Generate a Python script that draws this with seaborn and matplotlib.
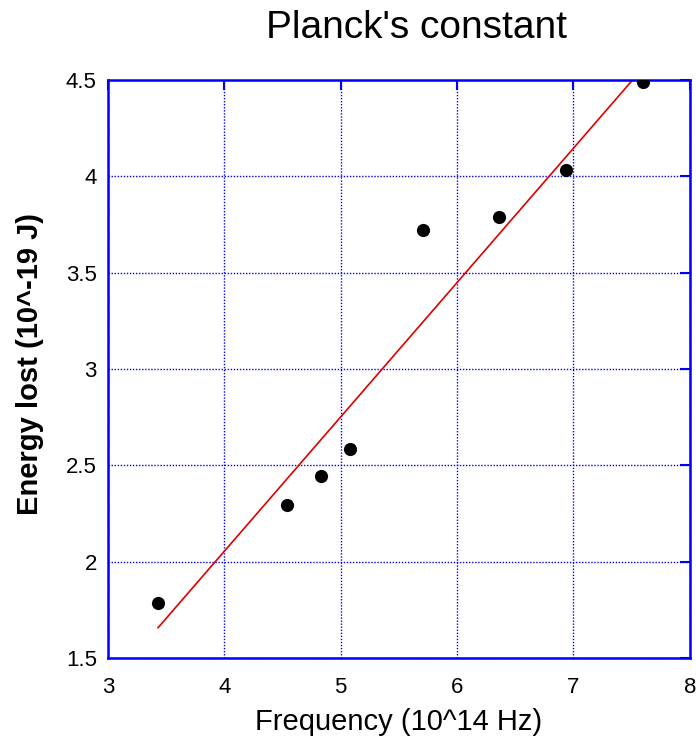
import numpy as np
import pandas as pd
import seaborn as sns
import matplotlib.pyplot as plt

# frequency (10^14 Hz) and energy lost (10^-19 J)
frequency = [3.43, 4.54, 4.83, 5.08, 5.71, 6.36, 6.94, 7.60]
energy = [1.785, 2.294, 2.444, 2.585, 3.721, 3.789, 4.032, 4.489]
xticks = [3, 4, 5, 6, 7, 8]
yticks = [1.5, 2, 2.5, 3, 3.5, 4, 4.5]
ytick_labels = ["1.5", "2", "2.5", "3", "3.5", "4", "4.5"]

df = pd.DataFrame({"freq": frequency, "energy": energy})

sns.set_style("white")
plt.rcParams['font.family'] = ['Liberation Sans', 'DejaVu Sans']
plt.rcParams['text.color'] = 'black'

fig = plt.figure(figsize=(6.96, 7.39), dpi=100)
ax = fig.add_axes([0.155, 0.1096, 0.836, 0.7821])

sns.regplot(data=df, x="freq", y="energy", ci=None, ax=ax,
            scatter_kws={"color": "black", "s": 90, "alpha": 1, "zorder": 3, "linewidths": 0},
            line_kws={"color": "#e00000", "lw": 1.2, "zorder": 2})

ax.set_xlim(3, 8)
ax.set_ylim(1.5, 4.5)
ax.set_xticks(xticks)
ax.set_yticks(yticks)
ax.set_yticklabels(ytick_labels)
ax.grid(True, color="blue", linestyle=(0, (1, 1.2)), linewidth=1.0)
ax.set_axisbelow(True)
for s in ax.spines.values():
    s.set_color("blue")
    s.set_linewidth(1.8)
ax.tick_params(direction="in", length=7, width=1.5, color="blue",
               top=True, right=True, labelsize=16, labelcolor="black")
ax.tick_params(axis="x", pad=14)
ax.tick_params(axis="y", pad=8)

ax.set_xlabel("Frequency (10^14 Hz)", fontsize=21, color="black", labelpad=7)
ax.set_ylabel("Energy lost (10^-19 J)", fontsize=21, fontweight="bold",
              color="black")
ax.yaxis.set_label_coords(-0.11, 0.509)
fig.text(0.598, 0.962, "Planck's constant", fontsize=28, ha="center", va="center")

plt.savefig("out.png", dpi=100)
